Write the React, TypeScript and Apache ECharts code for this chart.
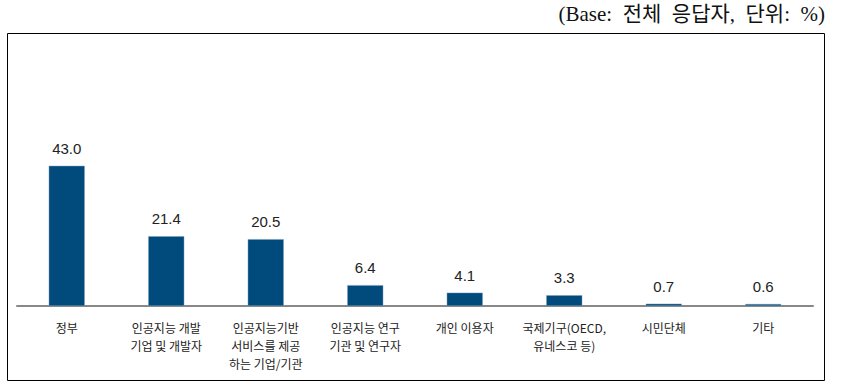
import React, { useEffect, useRef } from "react";
import * as echarts from "echarts";

const categories = [
  "정부",
  "인공지능 개발\n기업 및 개발자",
  "인공지능기반\n서비스를 제공\n하는 기업/기관",
  "인공지능 연구\n기관 및 연구자",
  "개인 이용자",
  "국제기구(OECD,\n유네스코 등)",
  "시민단체",
  "기타",
];
const values = [43.0, 21.4, 20.5, 6.4, 4.1, 3.3, 0.7, 0.6];
const noteText = "(Base:  전체  응답자,  단위:  %)";

export default function App() {
  const ref = useRef<HTMLDivElement>(null);
  useEffect(() => {
    const chart = echarts.init(ref.current!, null, { renderer: "svg" });
    chart.setOption({
      animation: false,
      grid: { left: 17, right: 29, top: 143, bottom: 83 },
      xAxis: {
        type: "category",
        data: categories,
        axisLine: { lineStyle: { color: "#888888", width: 2 } },
        axisTick: { show: false },
        axisLabel: {
          interval: 0,
          margin: 12,
          fontSize: 12,
          lineHeight: 18,
          color: "#222222",
          fontFamily: "'Noto Sans CJK KR', sans-serif",
        },
      },
      yAxis: {
        type: "value",
        min: 0,
        max: 50,
        show: false,
        splitLine: { show: false },
      },
      series: [
        {
          type: "bar",
          data: values,
          barWidth: 36,
          itemStyle: { color: "#004a7c", borderColor: "#7f9fb8", borderWidth: 0.5 },
          label: {
            show: true,
            position: "top",
            distance: 10,
            fontSize: 15,
            color: "#222222",
            fontFamily: "'Liberation Sans', Arial, sans-serif",
            formatter: (p: any) => p.value.toFixed(1),
          },
        },
      ],
      graphic: [
        {
          type: "rect",
          shape: { x: 7.5, y: 33.5, width: 817, height: 347 },
          style: { fill: "none", stroke: "#000000", lineWidth: 1 },
          silent: true,
        },
        {
          type: "text",
          right: 17,
          top: 3,
          style: {
            text: noteText,
            fontSize: 21,
            fill: "#111111",
            fontFamily: "'Liberation Serif', 'DejaVu Serif', 'Noto Sans CJK KR', serif",
          },
        },
      ],
    });
    return () => chart.dispose();
  }, []);
  return (
    <div
      ref={ref}
      style={{ position: "fixed", left: 0, top: 0, width: 842, height: 389, background: "#ffffff" }}
    />
  );
}
